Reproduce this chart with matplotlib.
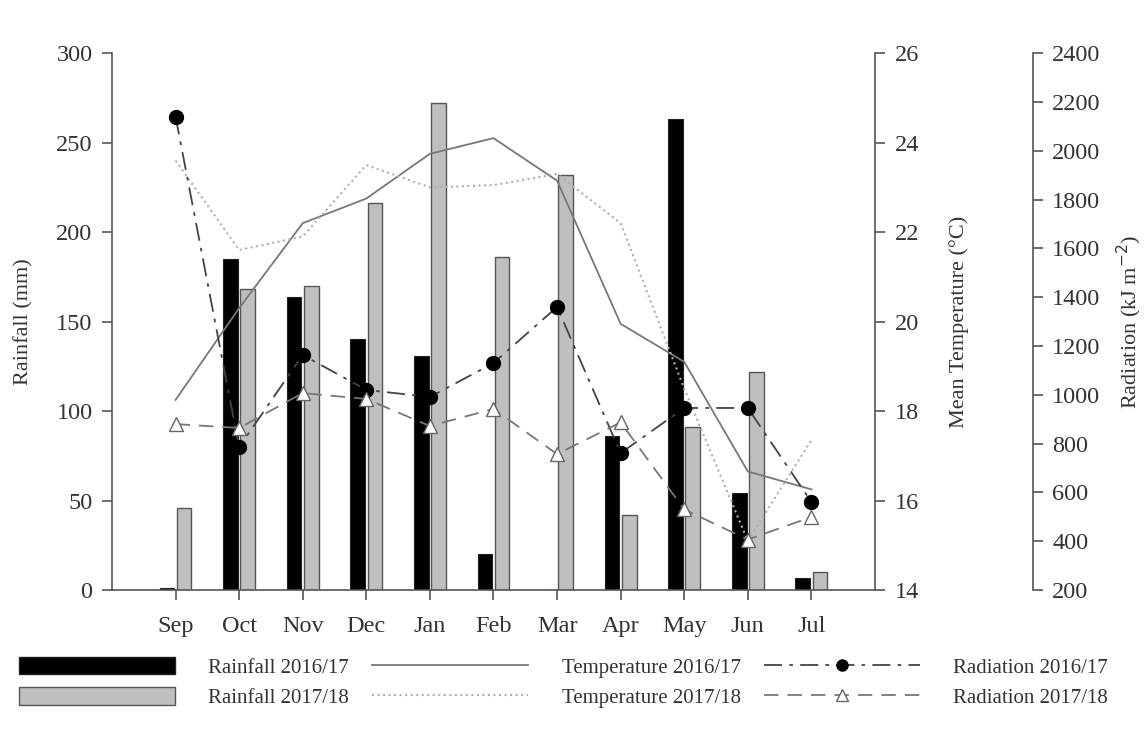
import matplotlib.pyplot as plt
import numpy as np

plt.rcParams['font.family'] = ['Liberation Serif', 'DejaVu Serif']

months = ['Sep', 'Oct', 'Nov', 'Dec', 'Jan', 'Feb', 'Mar', 'Apr', 'May', 'Jun', 'Jul']
rain_1617 = [1, 185, 164, 140, 131, 20, 0, 86, 263, 54, 7]
rain_1718 = [46, 168, 170, 216, 272, 186, 232, 42, 91, 122, 10]
temp_1617 = [18.25, 20.3, 22.2, 22.75, 23.75, 24.1, 23.15, 19.95, 19.1, 16.65, 16.25]
temp_1718 = [23.6, 21.6, 21.9, 23.5, 23.0, 23.05, 23.3, 22.2, 18.5, 15.1, 17.35]
rad_1617 = [2140, 786, 1163, 1020, 991, 1130, 1360, 761, 946, 946, 561]
rad_1718 = [880, 864, 1007, 983, 872, 942, 757, 887, 530, 407, 499]

txt = '#333333'
spine = '#555555'

fig = plt.figure(figsize=(11.46, 7.38), dpi=100)
ax = fig.add_axes([0.0977, 0.2005, 0.6658, 0.7275])
ax2 = ax.twinx()
ax3 = ax.twinx()
ax3.spines['right'].set_position(('axes', 1.207))

x = np.arange(len(months))
w = 0.23
ax.bar(x - 0.135, rain_1617, w, color='black', edgecolor='#222222', linewidth=0.8)
ax.bar(x + 0.135, rain_1718, w, color='#bfbfbf', edgecolor='#555555', linewidth=1.0)

ax2.plot(x, temp_1617, '-', color='#777777', lw=1.3)
ax2.plot(x, temp_1718, ':', color='#b0b0b0', lw=1.5)

ax3.plot(x, rad_1617, color='#444444', lw=1.3, dashes=[10, 4, 2, 4],
         marker='o', ms=10, mfc='black', mec='black')
ax3.plot(x, rad_1718, color='#777777', lw=1.3, dashes=[8, 5],
         marker='^', ms=10, mfc='white', mec='#666666')

ax.set_xlim(-1, 11)
ax.set_ylim(0, 300)
ax.set_yticks(range(0, 301, 50))
ax.set_xticks(x)
ax.set_xticklabels(months)
ax2.set_ylim(14, 26)
ax2.set_yticks(range(14, 27, 2))
ax3.set_ylim(200, 2400)
ax3.set_yticks(range(200, 2401, 200))

for a in (ax, ax2, ax3):
    for s in a.spines.values():
        s.set_color(spine)
        s.set_linewidth(1.2)
    a.spines['top'].set_visible(False)
    a.tick_params(colors=spine, labelcolor=txt, labelsize=17.5, length=7, width=1.2, pad=7)
ax.tick_params(axis='x', pad=12)
ax.spines['right'].set_visible(False)
ax2.spines['left'].set_visible(False)
ax3.spines['left'].set_visible(False)
ax3.spines['bottom'].set_visible(False)
ax2.spines['bottom'].set_visible(False)

ax.set_ylabel('Rainfall (mm)', fontsize=16, color=txt, labelpad=16)
ax2.set_ylabel('Mean Temperature (\u00b0C)', fontsize=16, color=txt, labelpad=22)
ax3.set_ylabel('Radiation (kJ m$^{-2}$)', fontsize=16, color=txt, labelpad=10)

handles = [
    plt.Rectangle((0, 0), 1, 1, fc='black', ec='#222222'),
    plt.Rectangle((0, 0), 1, 1, fc='#bfbfbf', ec='#555555'),
    plt.Line2D([], [], color='#777777', lw=1.3),
    plt.Line2D([], [], color='#b0b0b0', lw=1.5, ls=':'),
    plt.Line2D([], [], color='#444444', lw=1.3, dashes=[10, 4, 2, 4], marker='o', ms=8, mfc='black', mec='black'),
    plt.Line2D([], [], color='#777777', lw=1.3, dashes=[8, 5], marker='^', ms=8, mfc='white', mec='#666666'),
]
labels = ['Rainfall 2016/17', 'Rainfall 2017/18', 'Temperature 2016/17',
          'Temperature 2017/18', 'Radiation 2016/17', 'Radiation 2017/18']
leg = fig.legend(handles, labels, ncol=3, loc='upper left', bbox_to_anchor=(0.0, 0.135),
                 frameon=False, fontsize=15, handlelength=7.5, handleheight=0.9,
                 handletextpad=1.6, columnspacing=1.1, labelspacing=0.45)
for t in leg.get_texts():
    t.set_color(txt)

fig.savefig('out.png', dpi=100)
